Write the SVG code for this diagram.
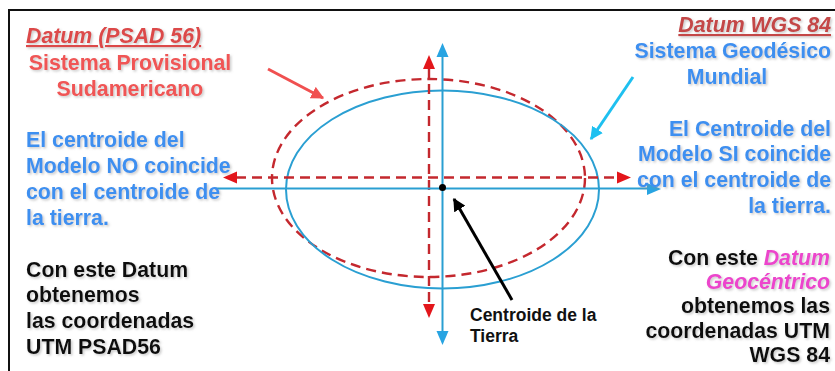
<svg xmlns="http://www.w3.org/2000/svg" width="835" height="371" viewBox="0 0 835 371">
<defs>
<style>
text{font-family:"Liberation Sans",Arial,sans-serif;font-weight:bold;font-size:21.3px}
.sh{filter:url(#shadow)}
.blue{fill:#3d8ff0}
.red{fill:#f05454}
.title{font-style:italic;text-decoration:underline}
.blk{fill:#111}
.mag{fill:#ec44cc;font-style:italic}
.small{font-size:17.5px;fill:#111}
.rdash{fill:none;stroke:#c4282e;stroke-width:2.4;stroke-dasharray:10 6}
.bline{fill:none;stroke:#2a9fd2;stroke-width:2}
.rhead{fill:#e3161b}
.bhead{fill:#28a4e2}
</style>
<filter id="shadow" x="-5%" y="-20%" width="110%" height="150%">
<feDropShadow dx="1.5" dy="1.5" stdDeviation="1" flood-color="#888" flood-opacity="0.45"/>
</filter>
<marker id="mRed" viewBox="0 0 10 10" refX="9" refY="5" markerWidth="4.3" markerHeight="4.3" orient="auto" markerUnits="strokeWidth">
<path d="M0,0 L10,5 L0,10 z" fill="#f05050"/>
</marker>
<marker id="mCyan" viewBox="0 0 10 10" refX="9" refY="5" markerWidth="4.3" markerHeight="4.3" orient="auto" markerUnits="strokeWidth">
<path d="M0,0 L10,5 L0,10 z" fill="#1ec0f0"/>
</marker>
<marker id="mBlack" viewBox="0 0 10 10" refX="9" refY="5" markerWidth="4.3" markerHeight="4.3" orient="auto" markerUnits="strokeWidth">
<path d="M0,0 L10,5 L0,10 z" fill="#000"/>
</marker>
</defs>
<rect x="0" y="0" width="835" height="371" fill="#fff"/>
<rect x="9" y="10" width="835" height="370" fill="none" stroke="#111" stroke-width="2"/>

<g id="psad-ellipse">
<ellipse cx="428.5" cy="178" rx="156.5" ry="99" class="rdash"/>
</g>
<g id="wgs-ellipse">
<ellipse cx="442.5" cy="189.5" rx="156.5" ry="99" class="bline"/>
</g>

<g id="psad-axes">
<line x1="236" y1="177.5" x2="617" y2="177.5" class="rdash"/>
<polygon points="223,177.5 237,171.5 237,183.5" class="rhead"/>
<polygon points="631,177.5 617,171.5 617,183.5" class="rhead"/>
<line x1="429" y1="68" x2="429" y2="305" class="rdash"/>
<polygon points="429,55 423,69 435,69" class="rhead"/>
<polygon points="429,318 423,304 435,304" class="rhead"/>
</g>

<g id="wgs-axes">
<line x1="215" y1="188.5" x2="648" y2="188.5" class="bline"/>
<polygon points="661,189 647,183 647,195" class="bhead"/>
<line x1="442.5" y1="56" x2="442.5" y2="333" class="bline"/>
<polygon points="442.5,43 436.5,57 448.5,57" class="bhead"/>
<polygon points="442.5,345 436.5,331 448.5,331" class="bhead"/>
</g>

<g id="centroid">
<circle cx="442.5" cy="187.5" r="3.5" fill="#000"/>
<text class="small" x="470" y="321">Centroide de la</text>
<text class="small" x="470" y="342">Tierra</text>
</g>

<g id="connectors">
<line x1="268" y1="69" x2="323" y2="98" stroke="#f05050" stroke-width="3" marker-end="url(#mRed)"/>
<line x1="633" y1="77" x2="591" y2="139" stroke="#1ec0f0" stroke-width="3" marker-end="url(#mCyan)"/>
<line x1="512" y1="300" x2="454" y2="199" stroke="#000" stroke-width="3" marker-end="url(#mBlack)"/>
</g>

<g id="psad-label" class="sh">
<text x="26" y="43" class="title" fill="#dc4848">Datum (PSAD 56)</text>
<text x="130" y="70" text-anchor="middle" class="red">Sistema Provisional</text>
<text x="130" y="96" text-anchor="middle" class="red">Sudamericano</text>
</g>

<g id="psad-desc" class="sh blue">
<text x="26" y="147">El centroide del</text>
<text x="26" y="173">Modelo NO coincide</text>
<text x="26" y="199">con el centroide de</text>
<text x="26" y="225">la tierra.</text>
</g>

<g id="psad-coords" class="sh blk">
<text x="26" y="277">Con este Datum</text>
<text x="26" y="302">obtenemos</text>
<text x="26" y="328">las coordenadas</text>
<text x="26" y="354">UTM PSAD56</text>
</g>

<g id="wgs-label" class="sh">
<text x="831" y="32" text-anchor="end" class="title" fill="#c44646">Datum WGS 84</text>
<text x="831" y="58" text-anchor="end" class="blue">Sistema Geodésico</text>
<text x="727" y="84" text-anchor="middle" class="blue">Mundial</text>
</g>

<g id="wgs-desc" class="sh blue" text-anchor="end">
<text x="831" y="136">El Centroide del</text>
<text x="831" y="161">Modelo SI coincide</text>
<text x="831" y="187">con el centroide de</text>
<text x="831" y="213">la tierra.</text>
</g>

<g id="wgs-coords" class="sh blk" text-anchor="end">
<text x="830" y="265">Con este <tspan class="mag">Datum</tspan></text>
<text x="830" y="289" class="mag">Geocéntrico</text>
<text x="830" y="313">obtenemos las</text>
<text x="830" y="338">coordenadas UTM</text>
<text x="830" y="362">WGS 84</text>
</g>
</svg>
